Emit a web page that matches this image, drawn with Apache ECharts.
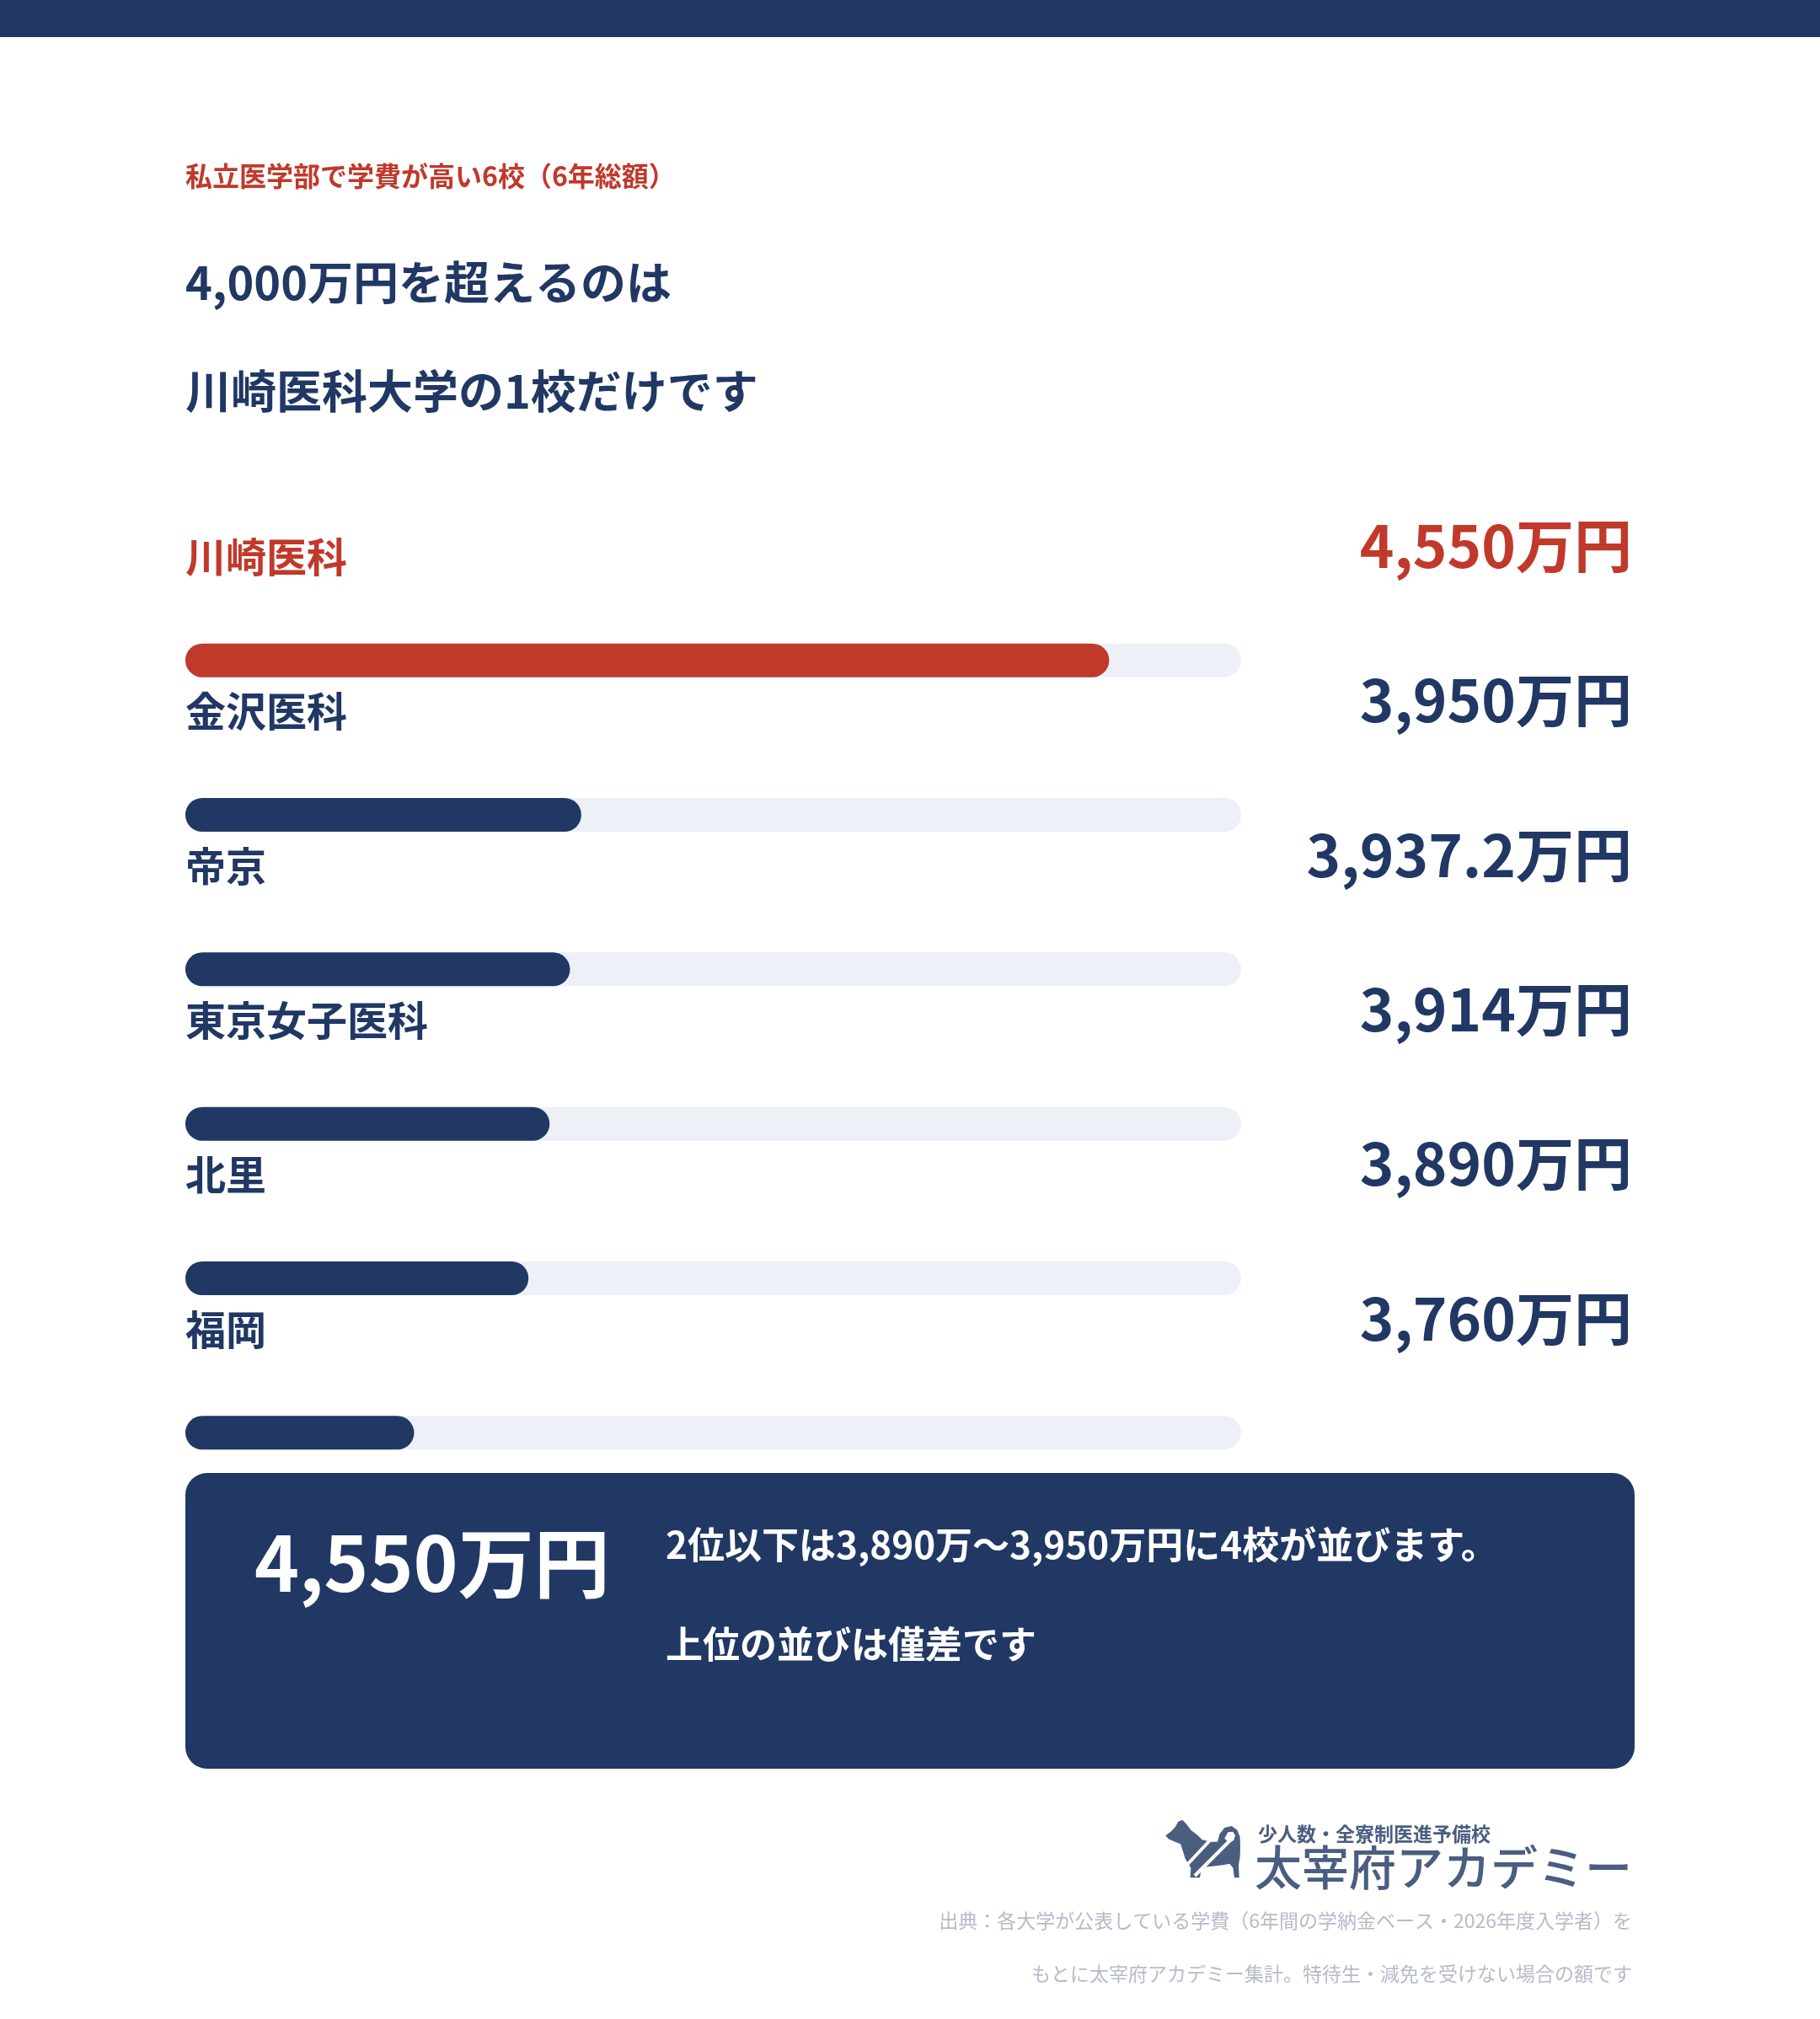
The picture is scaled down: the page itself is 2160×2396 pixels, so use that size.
<!DOCTYPE html>
<html>
<head>
<meta charset="utf-8">
<script src="https://cdn.jsdelivr.net/npm/echarts@6/dist/echarts.min.js"></script>
<style>
  html, body { margin: 0; padding: 0; background: #ffffff; }
  #chart { width: 2160px; height: 2396px; }
</style>
</head>
<body>
<div id="chart"></div>
<script>
// ---- data ----
const schools = ['川崎医科', '金沢医科', '帝京', '東京女子医科', '北里', '福岡'];
const fees = [4550, 3950, 3937.2, 3914, 3890, 3760]; // 万円, 6年総額
const axisMin = 3500;
const axisMax = 4700;
const subtitle = '私立医学部で学費が高い6校（6年総額）';
const titleLines = ['4,000万円を超えるのは', '川崎医科大学の1校だけです'];
const calloutLines = ['2位以下は3,890万～3,950万円に4校が並びます。', '上位の並びは僅差です'];
const logoSub = '少人数・全寮制医進予備校';
const logoMain = '太宰府アカデミー';
const sourceLines = [
  '出典：各大学が公表している学費（6年間の学納金ベース・2026年度入学者）を',
  'もとに太宰府アカデミー集計。特待生・減免を受けない場合の額です'
];

// ---- styles ----
const NAVY = '#213864';
const RED = '#C0392B';
const TRACK = '#EDF0F7';
const LOGO = '#4A5E80';
const FONT = "'Noto Sans CJK JP', 'Noto Sans', sans-serif";

const fmt = v => v.toLocaleString('en-US', { maximumFractionDigits: 1 }) + '万円';

const chart = echarts.init(document.getElementById('chart'), null, { renderer: 'canvas' });

// logo silhouette (decorative), in 3x crop units relative to (1370, 2145)
const toLogo = p => [1370 + p[0] / 3, 2145 + p[1] / 3];
const dogPts = [
  [40, 100], [60, 85], [75, 68], [85, 50], [100, 44], [115, 60], [130, 80],
  [155, 100], [170, 115], [200, 122], [225, 122], [232, 95], [250, 72],
  [275, 66], [295, 80], [305, 105], [306, 140], [305, 175], [300, 205],
  [302, 250], [285, 250], [280, 215], [268, 200], [245, 205], [200, 210],
  [168, 212], [162, 250], [128, 250], [130, 215], [110, 182], [100, 150],
  [93, 130], [70, 121], [50, 112]
].map(toLogo);
const tailHole = [[250, 110], [262, 88], [280, 86], [288, 100], [282, 118], [265, 125]].map(toLogo);

const option = {
  backgroundColor: '#ffffff',
  animation: false,
  textStyle: { fontFamily: FONT },
  grid: { left: 220, top: 692, width: 1253, height: 1100, containLabel: false },
  xAxis: {
    type: 'value', min: axisMin, max: axisMax, startValue: axisMin,
    show: false, splitLine: { show: false }
  },
  yAxis: [
    {
      type: 'category', data: schools, inverse: true, position: 'left',
      axisLine: { show: false }, axisTick: { show: false },
      axisLabel: {
        inside: true, margin: 0, interval: 0, align: 'left',
        verticalAlign: 'bottom', lineHeight: 246,
        fontSize: 48, fontWeight: 'bold', fontFamily: FONT,
        color: (v, i) => (i === 0 ? RED : NAVY)
      }
    },
    {
      type: 'category', data: fees.map(fmt), inverse: true, position: 'right',
      axisLine: { show: false }, axisTick: { show: false },
      axisLabel: {
        margin: 464, interval: 0, align: 'right',
        verticalAlign: 'bottom', lineHeight: 272,
        fontSize: 69, fontWeight: 'bold', fontFamily: FONT,
        color: (v, i) => (i === 0 ? RED : NAVY)
      }
    }
  ],
  series: [{
    type: 'bar',
    yAxisIndex: 0,
    barWidth: 40,
    silent: true,
    showBackground: true,
    backgroundStyle: { color: TRACK, borderRadius: 20 },
    itemStyle: { borderRadius: 20 },
    data: fees.map((v, i) => ({ value: v, itemStyle: { color: i === 0 ? RED : NAVY } }))
  }],
  graphic: [
    { type: 'rect', left: 0, top: 0, shape: { width: 2160, height: 44 }, style: { fill: NAVY }, silent: true },
    { type: 'text', x: 220, y: 209, style: { text: subtitle, fill: RED, font: `bold 32px ${FONT}`, textVerticalAlign: 'middle' } },
    { type: 'text', x: 220, y: 335, style: { text: titleLines[0], fill: NAVY, font: `bold 54px ${FONT}`, textVerticalAlign: 'middle' } },
    { type: 'text', x: 220, y: 464, style: { text: titleLines[1], fill: NAVY, font: `bold 54px ${FONT}`, textVerticalAlign: 'middle' } },
    { type: 'rect', shape: { x: 220, y: 1748, width: 1720, height: 351, r: 26 }, style: { fill: NAVY } },
    { type: 'text', x: 302, y: 1855, style: { text: fmt(fees[0]), fill: '#ffffff', font: `bold 90px ${FONT}`, textVerticalAlign: 'middle' } },
    { type: 'text', x: 790, y: 1833, style: { text: calloutLines[0], fill: '#ffffff', font: `bold 44px ${FONT}`, textVerticalAlign: 'middle' } },
    { type: 'text', x: 790, y: 1951, style: { text: calloutLines[1], fill: '#ffffff', font: `bold 44px ${FONT}`, textVerticalAlign: 'middle' } },
    { type: 'polygon', shape: { points: dogPts }, style: { fill: LOGO } },
    { type: 'polygon', shape: { points: tailHole }, style: { fill: '#ffffff' } },
    { type: 'line', shape: { x1: 1406, y1: 2216, x2: 1436, y2: 2184 }, style: { stroke: '#ffffff', lineWidth: 4 } },
    { type: 'line', shape: { x1: 1418, y1: 2226, x2: 1462, y2: 2182 }, style: { stroke: '#ffffff', lineWidth: 4 } },
    { type: 'text', x: 1493, y: 2176, style: { text: logoSub, fill: LOGO, font: `bold 23px ${FONT}`, textVerticalAlign: 'middle' } },
    { type: 'text', x: 1489, y: 2216, style: { text: logoMain, fill: LOGO, font: `500 56px ${FONT}`, textVerticalAlign: 'middle' } },
    { type: 'text', x: 1937, y: 2279, style: { text: sourceLines[0], fill: '#B5BBC8', font: `23px ${FONT}`, textAlign: 'right', textVerticalAlign: 'middle' } },
    { type: 'text', x: 1937, y: 2342, style: { text: sourceLines[1], fill: '#B5BBC8', font: `23px ${FONT}`, textAlign: 'right', textVerticalAlign: 'middle' } }
  ]
};

chart.setOption(option);
</script>
</body>
</html>
